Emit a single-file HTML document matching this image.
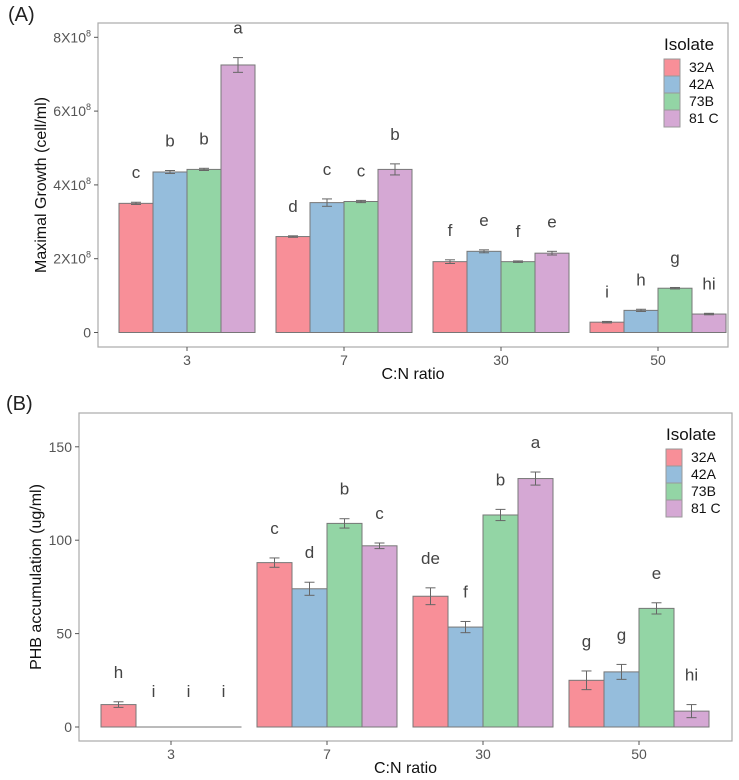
<!DOCTYPE html>
<html><head><meta charset="utf-8"><style>
body{margin:0;background:#fff;font-family:"Liberation Sans",sans-serif}
svg{display:block}
</style></head><body>
<svg id="s" width="739" height="780" xmlns="http://www.w3.org/2000/svg"></svg>
<script>
const categories=["3","7","30","50"];
const isolates=["32A","42A","73B","81 C"];
const colors=["#f88f98","#95bddc","#93d5a5","#d5a8d4"];
// Panel A (x1e8 cells/ml)
const growth32A=[3.5,2.6,1.92,0.28];
const growth42A=[4.35,3.52,2.2,0.6];
const growth73B=[4.42,3.55,1.92,1.2];
const growth81C=[7.25,4.42,2.15,0.5];
const growthErr=[[0.03,0.02,0.05,0.02],[0.04,0.1,0.04,0.03],[0.03,0.03,0.02,0.02],[0.2,0.15,0.05,0.02]];
const growthLetters=[["c","d","f","i"],["b","c","e","h"],["b","c","f","g"],["a","b","e","hi"]];
const growthTicks=[0,2,4,6,8];
const growthTickLabels=["0","2X10","4X10","6X10","8X10"];
// Panel B (ug/ml)
const phb32A=[12,88,70,25];
const phb42A=[0,74,53.5,29.5];
const phb73B=[0,109,113.5,63.5];
const phb81C=[0,97,133,8.5];
const phbErr=[[1.5,2.5,4.5,5],[0,3.5,3,4],[0,2.5,3,3],[0,1.5,3.5,3.5]];
const phbLetters=[["h","c","de","g"],["i","d","f","g"],["i","b","b","e"],["i","c","a","hi"]];
const phbTicks=[0,50,100,150];
const phbTickLabels=["0","50","100","150"];

const NS="http://www.w3.org/2000/svg";
const svg=document.getElementById("s");
function mk(tag,at,parent){const e=document.createElementNS(NS,tag);for(const k in at)e.setAttribute(k,at[k]);(parent||svg).appendChild(e);return e;}

function panel(cfg){
  const g=mk("g",{});
  
  
  const {L,R,T,B,y0,yPerUnit,cx0,dx,bw}=cfg;
  const y=v=>y0-v*yPerUnit;
  const x=i=>cx0+i*dx;
  const box=mk("rect",{x:L,y:T,width:R-L,height:B-T,fill:"none",stroke:"#aaa","stroke-width":1.2},g);
  
  
  const pl=mk("text",{x:cfg.plx,y:cfg.ply,"font-size":20,fill:"#222"},g);pl.textContent=cfg.panelLabel;
  
  
  cfg.ticks.forEach((t,i)=>{
    mk("line",{x1:L-4,x2:L,y1:y(t),y2:y(t),stroke:"#555"},g);
    const tx=mk("text",{x:L-7,y:y(t)+5,"font-size":14,fill:"#555","text-anchor":"end"},g);
    tx.textContent=cfg.tickLabels[i];
    if(cfg.sup&&t!==0){const s=mk("tspan",{"font-size":9,dy:-6},tx);s.textContent="8";}
    
    
  });
  categories.forEach((c,i)=>{
    mk("line",{x1:x(i),x2:x(i),y1:B,y2:B+4,stroke:"#555"},g);
    const tx=mk("text",{x:x(i),y:B+18,"font-size":14,fill:"#555","text-anchor":"middle"},g);tx.textContent=c;
    
    
  });
  const xt=mk("text",{x:(L+R)/2,y:B+32,"font-size":16,fill:"#111","text-anchor":"middle"},g);xt.textContent="C:N ratio";
  
  
  const yt=mk("text",{x:0,y:0,"font-size":16,fill:"#111","text-anchor":"middle",transform:`translate(${cfg.ytx},${(T+B)/2}) rotate(-90)`},g);yt.textContent=cfg.yTitle;
  
  
  cfg.series.forEach((vals,s)=>{
    vals.forEach((v,i)=>{
      const bx=x(i)-2*bw+s*bw;
      const r=mk("rect",{x:bx,y:y(v),width:bw,height:Math.max(0.01,y(0)-y(v)),fill:colors[s],stroke:"#777","stroke-width":1},g);
      
      
      if(v===0) mk("line",{x1:bx,x2:bx+bw,y1:y(0),y2:y(0),stroke:"#777"},g);
      const e=cfg.err[s][i],m=bx+bw/2;
      if(e>0){
        mk("line",{x1:m,x2:m,y1:y(v+e),y2:y(v-e),stroke:"#666"},g);
        mk("line",{x1:m-5,x2:m+5,y1:y(v+e),y2:y(v+e),stroke:"#666"},g);
        mk("line",{x1:m-5,x2:m+5,y1:y(v-e),y2:y(v-e),stroke:"#666"},g);
      }
      const lt=mk("text",{x:m,y:y(v+e)-cfg.lblOff-(e===0?6:0),"font-size":17,fill:"#444","text-anchor":"middle"},g);
      lt.textContent=cfg.letters[s][i];
      
      
    });
  });
  const lg=mk("g",{},g);
  
  
  const lt=mk("text",{x:cfg.lgx,y:cfg.lgy,"font-size":17,fill:"#111"},lg);lt.textContent="Isolate";
  isolates.forEach((n,k)=>{
    const ky=cfg.lgy+9+k*17;
    const kr=mk("rect",{x:cfg.lgx,y:ky,width:16,height:17,fill:colors[k],stroke:"#999"},lg);
    
    
    const kt=mk("text",{x:cfg.lgx+25,y:ky+13,"font-size":14,fill:"#111"},lg);kt.textContent=n;
    
    
  });
}
panel({name:"panel-a",panelLabel:"(A)",plx:8,ply:21,L:98,R:728,T:23,B:347,y0:332.5,yPerUnit:36.9,cx0:187,dx:157,bw:34,
  ticks:growthTicks,tickLabels:growthTickLabels,sup:true,yTitle:"Maximal Growth (cell/ml)",ytx:46,
  series:[growth32A,growth42A,growth73B,growth81C],err:growthErr,letters:growthLetters,lblOff:24,lgx:664,lgy:50});
panel({name:"panel-b",panelLabel:"(B)",plx:6,ply:410,L:79,R:732,T:413,B:741,y0:727,yPerUnit:1.868,cx0:171,dx:156,bw:35,
  ticks:phbTicks,tickLabels:phbTickLabels,sup:false,yTitle:"PHB accumulation (ug/ml)",ytx:41,
  series:[phb32A,phb42A,phb73B,phb81C],err:phbErr,letters:phbLetters,lblOff:24,lgx:666,lgy:440});
</script>
</body></html>
